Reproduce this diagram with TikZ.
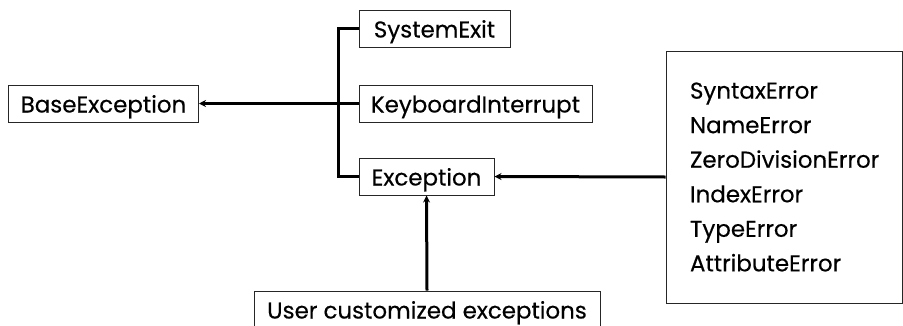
\documentclass[tikz,border=0pt]{standalone}
\usepackage{fontspec}
\setmainfont{Poppins}[FakeBold=0.35]
\usetikzlibrary{arrows.meta}
\newdimen\pxu
\pxu=0.75pt

\begin{document}
\begin{tikzpicture}[x=\pxu, y=-\pxu,
    box/.style={draw=black!85, line width=1\pxu, inner sep=0pt, minimum height=37\pxu, font=\fontsize{17.2}{20}\selectfont},
    label/.style={box, text height=13.5pt, text depth=0pt},
    link/.style={line width=3\pxu},
    isa/.style={link, -{Stealth[length=5.25pt, width=5.25pt]}}]
    \useasboundingbox (0,0) rectangle (903,325);
    \node[label, minimum width=190\pxu] (BE) at (103.5, 103.5) {BaseException};
    \node[label, minimum width=151\pxu] (SE) at (434.5, 28.5) {SystemExit};
    \node[label, minimum width=233\pxu] (KI) at (475.5, 103.5) {KeyboardInterrupt};
    \node[label, minimum width=135\pxu] (EX) at (426.5, 176.5) {Exception};
    \node[label, minimum width=346\pxu] (UC) at (427, 309.5) {User customized exceptions};
    \node[box, minimum width=236\pxu, minimum height=252\pxu, inner xsep=24\pxu, text width=188\pxu, align=left,
          font=\fontsize{17.2}{25.9}\selectfont] (ERR) at (784, 177)
          {SyntaxError\\NameError\\ZeroDivisionError\\IndexError\\TypeError\\AttributeError};
    \coordinate (J) at (338, 103.5);
    \draw[link] (SE.west) -| (J) |- (EX.west);
    \draw[isa] (KI.west) -- (BE.east);
    \draw[isa] (ERR.west) -- (EX.east);
    \draw[isa] (UC.north) -- (EX.south);
\end{tikzpicture}
\end{document}
